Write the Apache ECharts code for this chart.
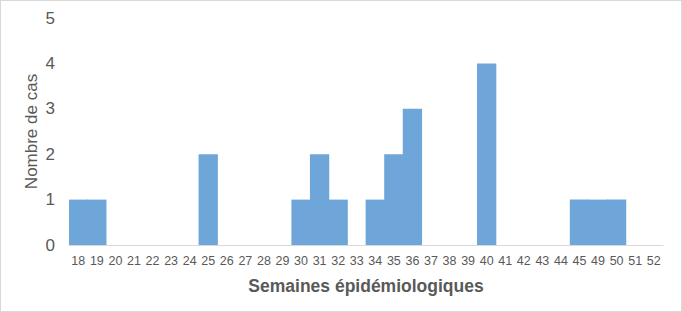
<!DOCTYPE html>
<html><head><meta charset="utf-8">
<script src="https://cdn.jsdelivr.net/npm/echarts@6/dist/echarts.min.js"></script>
<style>html,body{margin:0;padding:0;background:#fff}#c{width:680px;height:310px;border:1px solid #d9d9d9}</style>
</head><body><div id="c"></div>
<script>
const categories = ['18','19','20','21','22','23','24','25','26','27','28','29','30','31','32','33','34','35','36','37','38','39','40','41','42','43','44','45','49','50','51','52'];
const cases = [1,1,0,0,0,0,0,2,0,0,0,0,1,2,1,0,1,2,3,0,0,0,4,0,0,0,0,1,1,1,0,0];
const yTicks = [0,1,2,3,4,5];
const chart = echarts.init(document.getElementById('c'), null, {renderer:'svg'});
chart.setOption({
  animation:false,
  grid:{left:68,right:18,top:17,bottom:66},
  xAxis:{type:'category',data:categories,
    axisLine:{lineStyle:{color:'#d9d9d9',width:1}},axisTick:{show:false},
    axisLabel:{color:'#595959',fontSize:12.5,fontFamily:'Liberation Sans, Arial',interval:0,margin:9},
    name:'Semaines épidémiologiques',nameLocation:'middle',nameGap:32,nameMoveOverlap:false,
    nameTextStyle:{color:'#595959',fontSize:17.5,fontWeight:'bold',fontFamily:'Liberation Sans, Arial'}},
  yAxis:{type:'value',min:0,max:5,interval:1,
    axisLine:{show:false},axisTick:{show:false},splitLine:{show:false},
    axisLabel:{color:'#595959',fontSize:17,fontFamily:'Liberation Sans, Arial',margin:14,
      formatter:v=>yTicks.includes(v)?String(v):''},
    name:'Nombre de cas',nameLocation:'middle',nameGap:29,nameMoveOverlap:false,
    nameTextStyle:{color:'#595959',fontSize:17,fontFamily:'Liberation Sans, Arial'}},
  series:[{type:'bar',data:cases,barWidth:'104%',
    itemStyle:{color:'#6FA6D9',borderWidth:0}}]
});
</script></body></html>
